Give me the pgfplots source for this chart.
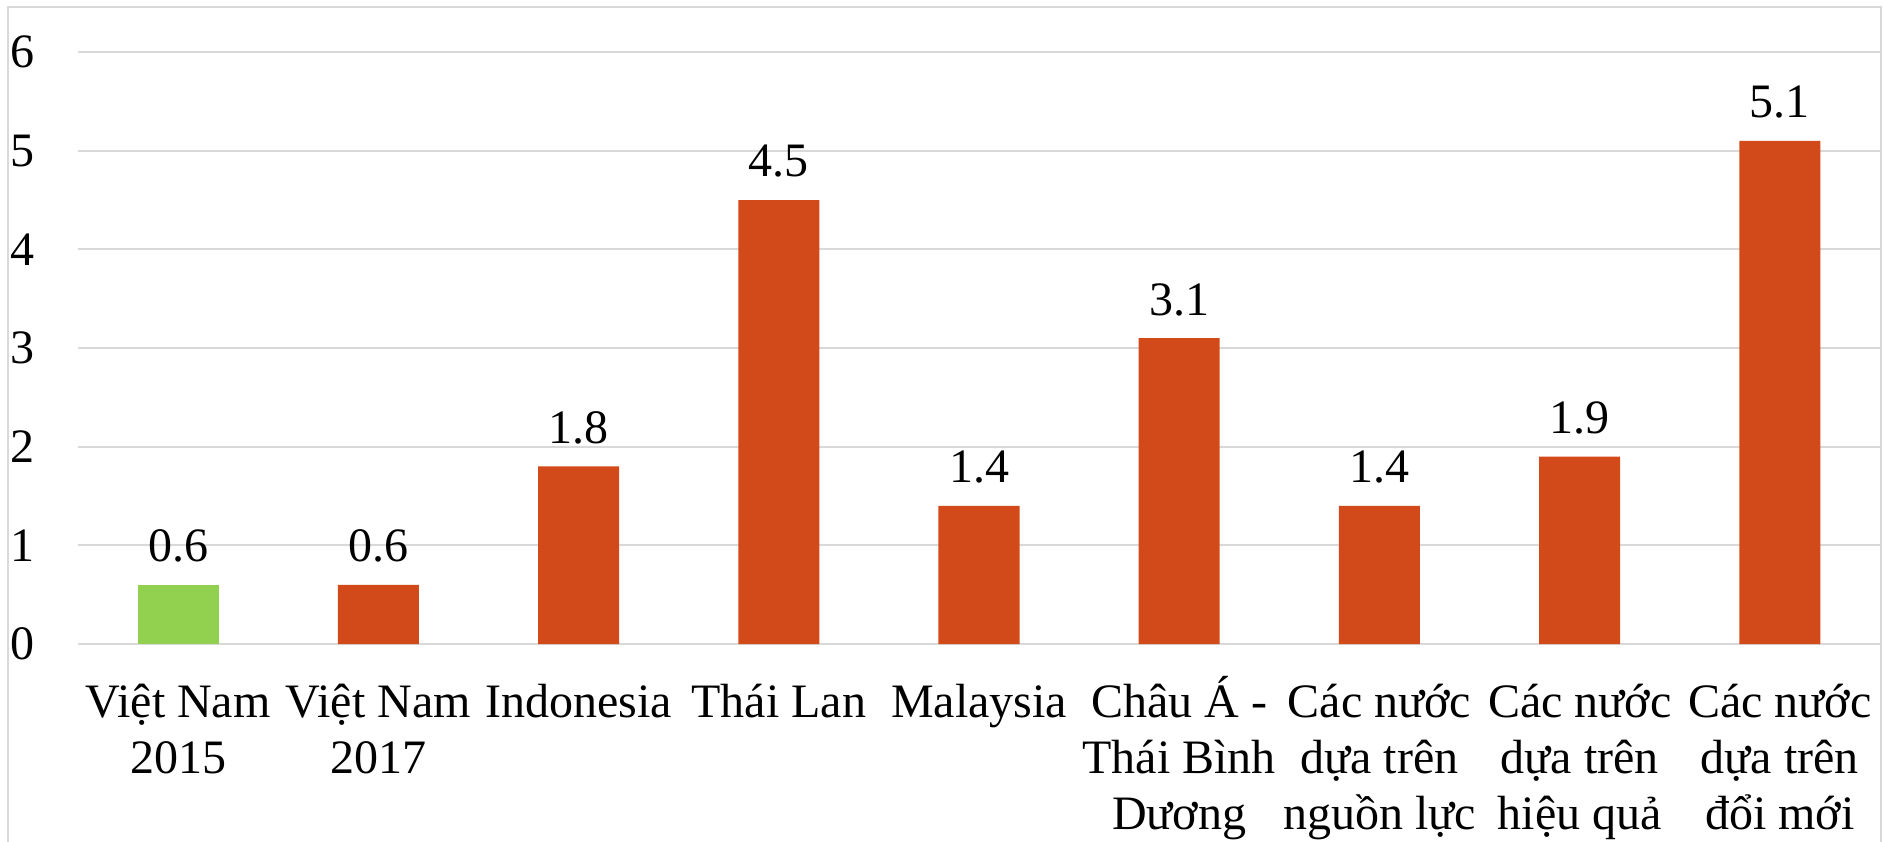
\documentclass[border=0pt]{standalone}
\usepackage{pgfplots}
\pgfplotsset{compat=1.18}
\usepackage{fontspec}
\setmainfont{Liberation Serif}
\definecolor{barred}{RGB}{210,74,25}
\definecolor{bargreen}{RGB}{146,208,80}
\definecolor{gridgray}{RGB}{217,217,217}
\lineskiplimit=-100pt
\begin{document}
\begin{tikzpicture}
\useasboundingbox (-39pt,-98.5pt) rectangle (902.5pt,322pt);
\draw[gridgray, line width=1pt] (-35pt,-120pt) -- (-35pt,318.5pt) -- (901.5pt,318.5pt) -- (901.5pt,-120pt);
\begin{axis}[
  at={(0,0)}, anchor=south west,
  scale only axis, width=901pt, height=296pt,
  xmin=-0.5, xmax=8.5, ymin=0, ymax=6,
  ybar, bar width=40.5pt, bar shift=0pt,
  axis line style={draw=none},
  major tick length=0pt,
  ymajorgrids, grid style={gridgray, line width=0.9pt},
  ytick={0,1,2,3,4,5,6},
  xtick={0,1,2,3,4,5,6,7,8},
  xticklabels={
    {\rule{0pt}{22pt}Việt Nam\\2015},
    {\rule{0pt}{22pt}Việt Nam\\2017},
    {\rule{0pt}{22pt}Indonesia},
    {\rule{0pt}{22pt}Thái Lan},
    {\rule{0pt}{22pt}Malaysia},
    {\rule{0pt}{22pt}Châu Á -\\Thái Bình\\Dương},
    {\rule{0pt}{22pt}Các nước\\dựa trên\\nguồn lực},
    {\rule{0pt}{22pt}Các nước\\dựa trên\\hiệu quả},
    {\rule{0pt}{22pt}Các nước\\dựa trên\\đổi mới}},
  /pgf/number format/assume math mode=true,
  ticklabel style={font=\fontsize{24}{28}\selectfont, inner sep=0pt},
  xticklabel style={align=center, anchor=north, yshift=-14.5pt},
  yticklabel style={anchor=east, xshift=-21.5pt},
  nodes near coords,
  nodes near coords style={font=\fontsize{24}{28}\selectfont, anchor=base, inner sep=0pt, yshift=11.5pt,
    /pgf/number format/fixed, /pgf/number format/precision=1, /pgf/number format/fixed zerofill},
]
\addplot[fill=bargreen, draw=none] coordinates {(0,0.6)};
\addplot[fill=barred, draw=none] coordinates {(1,0.6) (2,1.8) (3,4.5) (4,1.4) (5,3.1) (6,1.4) (7,1.9) (8,5.1)};
\end{axis}
\end{tikzpicture}
\end{document}
